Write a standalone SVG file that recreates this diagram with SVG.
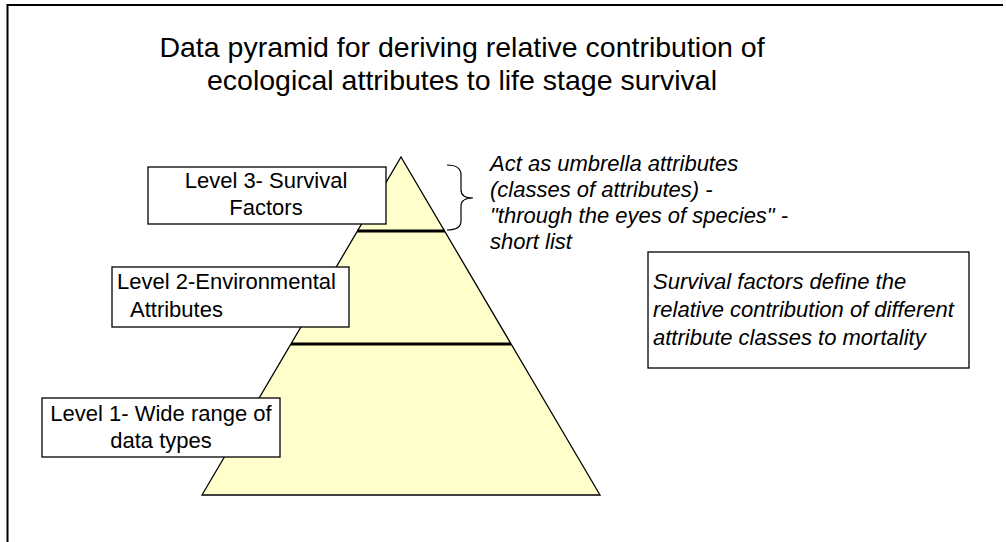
<svg xmlns="http://www.w3.org/2000/svg" width="1006" height="542" viewBox="0 0 1006 542">
<style>
.t{font-family:"Liberation Sans",Arial,sans-serif;fill:#000}
.title{font-size:28.5px}
.lbl{font-size:22px}
.it{font-size:22px;font-style:italic}
.box{fill:#fff;stroke:#000;stroke-width:1.3}
.band{stroke:#000;stroke-width:3}
</style>
<rect width="1006" height="542" fill="#fff"/>
<path d="M7.5 542 V5 H1003" fill="none" stroke="#000" stroke-width="2"/>
<g id="title">
<text class="t title" x="462" y="57" text-anchor="middle">Data pyramid for deriving relative contribution of</text>
<text class="t title" x="462" y="90" text-anchor="middle">ecological attributes to life stage survival</text>
</g>
<g id="pyramid">
<polygon points="401,157 600,495 202,495" fill="#FFFFCC" stroke="#000" stroke-width="1.3"/>
<line class="band" x1="357" y1="231" x2="445" y2="231"/>
<line class="band" x1="291" y1="344" x2="511" y2="344"/>
</g>
<g id="level3">
<rect class="box" x="148" y="167" width="238" height="57"/>
<text class="t lbl" x="266" y="188" text-anchor="middle">Level 3- Survival</text>
<text class="t lbl" x="266" y="215" text-anchor="middle">Factors</text>
</g>
<g id="level2">
<rect class="box" x="112" y="267" width="237" height="60"/>
<text class="t lbl" x="117" y="289">Level 2-Environmental</text>
<text class="t lbl" x="130" y="317">Attributes</text>
</g>
<g id="level1">
<rect class="box" x="42" y="398" width="238" height="59"/>
<text class="t lbl" x="161" y="421" text-anchor="middle">Level 1- Wide range of</text>
<text class="t lbl" x="161" y="448" text-anchor="middle">data types</text>
</g>
<g id="connectors">
<path d="M447 165 Q461 165 461 175 V190 Q461 198 473 198 Q461 198 461 206 V221 Q461 230 447 230" fill="none" stroke="#000" stroke-width="1.2"/>
</g>
<g id="umbrella-note">
<text class="t it" x="490" y="171">Act as umbrella attributes</text>
<text class="t it" x="490" y="197">(classes of attributes) -</text>
<text class="t it" x="490" y="223">"through the eyes of species" -</text>
<text class="t it" x="490" y="249">short list</text>
</g>
<g id="survival-note">
<rect class="box" x="648" y="252" width="321" height="116"/>
<text class="t it" x="653" y="289">Survival factors define the</text>
<text class="t it" x="653" y="317">relative contribution of different</text>
<text class="t it" x="653" y="345">attribute classes to mortality</text>
</g>
</svg>
